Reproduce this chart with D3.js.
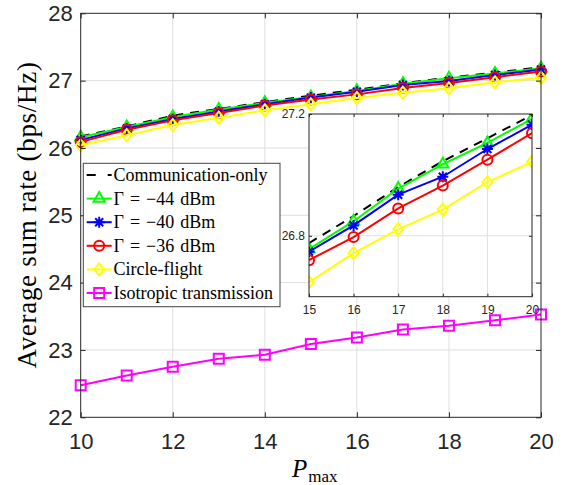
<!DOCTYPE html>
<html>
<head>
<meta charset="utf-8">
<script src="https://cdn.jsdelivr.net/npm/d3@7/dist/d3.min.js"></script>
<style>
  body { margin: 0; background: #fff; }
</style>
</head>
<body>
<div id="chart"></div>
<script>
// data
const pmax = [10, 11, 12, 13, 14, 15, 16, 17, 18, 19, 20];
const commOnly     = [26.17, 26.32, 26.48, 26.58, 26.68, 26.776, 26.865, 26.96, 27.045, 27.12, 27.197];
const gamma44      = [26.16, 26.31, 26.46, 26.57, 26.67, 26.756, 26.848, 26.955, 27.035, 27.105, 27.184];
const gamma40      = [26.12, 26.29, 26.43, 26.54, 26.65, 26.748, 26.834, 26.935, 26.994, 27.085, 27.165];
const gamma36      = [26.09, 26.27, 26.41, 26.52, 26.63, 26.72, 26.796, 26.89, 26.965, 27.05, 27.137];
const circleFlight = [26.04, 26.19, 26.34, 26.45, 26.56, 26.648, 26.743, 26.821, 26.886, 26.976, 27.043];
const isotropic    = [22.475, 22.62, 22.75, 22.87, 22.93, 23.09, 23.185, 23.305, 23.36, 23.44, 23.525];

const xTicks = [10, 12, 14, 16, 18, 20];
const yTicks = [22, 23, 24, 25, 26, 27, 28];
const insetXTicks = [15, 16, 17, 18, 19, 20];
const insetYTicks = [26.8, 27.2];
const legendLabels = ['Communication-only', 'Γ = −44 dBm', 'Γ = −40 dBm', 'Γ = −36 dBm', 'Circle-flight', 'Isotropic transmission'];

const series = [
  { values: commOnly,     color: '#000000', marker: 'none',     dash: true },
  { values: gamma44,      color: '#00ff00', marker: 'triangle' },
  { values: gamma40,      color: '#0000ff', marker: 'asterisk' },
  { values: gamma36,      color: '#ff0000', marker: 'circle' },
  { values: circleFlight, color: '#ffff00', marker: 'diamond' },
  { values: isotropic,    color: '#ff00ff', marker: 'square' }
];
series.forEach((s, i) => s.label = legendLabels[i]);

const width = 564, height = 485;
const axisColor = '#262626', gridColor = '#dfdfdf';
const sansFont = '"Liberation Sans", Arial, Helvetica, sans-serif';
const serifFont = '"Liberation Serif", "Times New Roman", "DejaVu Serif", serif';

const svg = d3.select('#chart').append('svg')
  .attr('width', width)
  .attr('height', height);

function markerPath(type) {
  const p = d3.path();
  if (type === 'triangle') {
    p.moveTo(0, -6.5); p.lineTo(5.6, 3.2); p.lineTo(-5.6, 3.2); p.closePath();
  } else if (type === 'circle') {
    p.arc(0, 0, 5, 0, 2 * Math.PI);
  } else if (type === 'diamond') {
    p.moveTo(0, -6); p.lineTo(5, 0); p.lineTo(0, 6); p.lineTo(-5, 0); p.closePath();
  } else if (type === 'square') {
    p.rect(-5, -5, 10, 10);
  } else if (type === 'asterisk') {
    p.moveTo(-5.5, 0); p.lineTo(5.5, 0);
    p.moveTo(0, -5.5); p.lineTo(0, 5.5);
    p.moveTo(-4, -4); p.lineTo(4, 4);
    p.moveTo(-4, 4); p.lineTo(4, -4);
  }
  return p.toString();
}

function drawSeries(g, s, x, y, xs) {
  const pts = xs.map(v => [v, s.values[pmax.indexOf(v)]]);
  g.append('path')
    .datum(pts)
    .attr('fill', 'none')
    .attr('stroke', s.color)
    .attr('stroke-width', 2)
    .attr('stroke-dasharray', s.dash ? '9,7' : null)
    .attr('d', d3.line().x(d => x(d[0])).y(d => y(d[1])));
  if (s.marker !== 'none') {
    g.selectAll(null)
      .data(pts)
      .enter().append('path')
      .attr('transform', d => 'translate(' + x(d[0]) + ',' + y(d[1]) + ')')
      .attr('d', markerPath(s.marker))
      .attr('fill', 'none')
      .attr('stroke', s.color)
      .attr('stroke-width', 2);
  }
}

function gridLines(g, x, y, xt, yt) {
  const [x0, x1] = x.range(), [y0, y1] = y.range();
  g.append('g').selectAll('line').data(xt.filter(v => x(v) > x0 + 1 && x(v) < x1 - 1))
    .enter().append('line')
    .attr('x1', d => x(d)).attr('x2', d => x(d)).attr('y1', y0).attr('y2', y1)
    .attr('stroke', gridColor).attr('stroke-width', 1);
  g.append('g').selectAll('line').data(yt.filter(v => y(v) < y0 - 1 && y(v) > y1 + 1))
    .enter().append('line')
    .attr('y1', d => y(d)).attr('y2', d => y(d)).attr('x1', x0).attr('x2', x1)
    .attr('stroke', gridColor).attr('stroke-width', 1);
}

function boxAxes(g, x, y, xt, yt, tick, fontSize, padX, padY, fmtX, fmtY) {
  const [x0, x1] = x.range(), [y0, y1] = y.range();
  const bottom = g.append('g').attr('transform', 'translate(0,' + y0 + ')')
    .call(d3.axisBottom(x).tickValues(xt).tickFormat(fmtX).tickSizeInner(-tick).tickSizeOuter(0).tickPadding(padX));
  const left = g.append('g').attr('transform', 'translate(' + x0 + ',0)')
    .call(d3.axisLeft(y).tickValues(yt).tickFormat(fmtY).tickSizeInner(-tick).tickSizeOuter(0).tickPadding(padY));
  const top = g.append('g').attr('transform', 'translate(0,' + y1 + ')')
    .call(d3.axisTop(x).tickValues(xt).tickSizeInner(-tick).tickSizeOuter(0).tickFormat(''));
  const right = g.append('g').attr('transform', 'translate(' + x1 + ',0)')
    .call(d3.axisRight(y).tickValues(yt).tickSizeInner(-tick).tickSizeOuter(0).tickFormat(''));
  [bottom, left, top, right].forEach(a => {
    a.select('.domain').remove();
    a.selectAll('line').attr('stroke', axisColor);
    a.selectAll('text')
      .attr('fill', axisColor)
      .style('font-family', sansFont)
      .style('font-size', fontSize + 'px');
  });
  g.append('rect')
    .attr('x', x0).attr('y', y1).attr('width', x1 - x0).attr('height', y0 - y1)
    .attr('fill', 'none').attr('stroke', axisColor).attr('stroke-width', 1);
}

// main axes
const x = d3.scaleLinear().domain([10, 20]).range([80.7, 541]);
const y = d3.scaleLinear().domain([22, 28]).range([417.3, 13.3]);
const main = svg.append('g');
gridLines(main, x, y, xTicks, yTicks);
series.forEach(s => drawSeries(main, s, x, y, pmax));
boxAxes(main, x, y, xTicks, yTicks, 5, 22, 16, 8, d3.format('d'), d3.format('d'));

// axis titles
svg.append('text')
  .attr('transform', 'translate(27,215) rotate(-90)')
  .attr('text-anchor', 'middle')
  .attr('dominant-baseline', 'central')
  .style('font-family', serifFont)
  .style('font-size', '27px')
  .style('letter-spacing', '0.7px')
  .text('Average sum rate (bps/Hz)');

const xl = svg.append('text')
  .attr('x', 292).attr('y', 477)
  .style('font-family', serifFont);
xl.append('tspan').style('font-size', '25px').style('font-style', 'italic').text('P');
xl.append('tspan').style('font-size', '17px').attr('dy', 5).attr('dx', 1).text('max');

// legend
const legend = svg.append('g').attr('transform', 'translate(83.3,163.3)');
legend.append('rect')
  .attr('width', 196.7).attr('height', 143.4)
  .attr('fill', '#fff').attr('stroke', '#444').attr('stroke-width', 1);
series.forEach((s, i) => {
  const row = legend.append('g').attr('transform', 'translate(0,' + (11.7 + i * 23.6) + ')');
  row.append('line')
    .attr('x1', 3.4).attr('x2', 28.4)
    .attr('stroke', s.color).attr('stroke-width', 2)
    .attr('stroke-dasharray', s.dash ? '9,12' : null);
  if (s.marker !== 'none') {
    row.append('path')
      .attr('transform', 'translate(15.9,0)')
      .attr('d', markerPath(s.marker))
      .attr('fill', 'none').attr('stroke', s.color).attr('stroke-width', 2);
  }
  row.append('text')
    .attr('x', 30.2).attr('y', 6)
    .style('font-family', serifFont)
    .style('font-size', '18px')
    .style('word-spacing', s.label.startsWith('Γ') ? '1.5px' : null)
    .text(s.label);
});

// inset zoom on 15..20
const xi = d3.scaleLinear().domain([15, 20]).range([309, 532]);
const yi = d3.scaleLinear().domain([26.6, 27.2]).range([296.7, 114]);
const inset = svg.append('g');
inset.append('rect')
  .attr('x', 309).attr('y', 114).attr('width', 223).attr('height', 182.7)
  .attr('fill', '#fff');
svg.append('clipPath').attr('id', 'inset-clip')
  .append('rect').attr('x', 309).attr('y', 114).attr('width', 223).attr('height', 182.7);
gridLines(inset, xi, yi, insetXTicks, insetYTicks);
const insetPlot = inset.append('g').attr('clip-path', 'url(#inset-clip)');
series.slice(0, 5).forEach(s => drawSeries(insetPlot, s, xi, yi, insetXTicks));
boxAxes(inset, xi, yi, insetXTicks, insetYTicks, 3, 12, 9, 4, d3.format('d'), d3.format('.1f'));
</script>
</body>
</html>
